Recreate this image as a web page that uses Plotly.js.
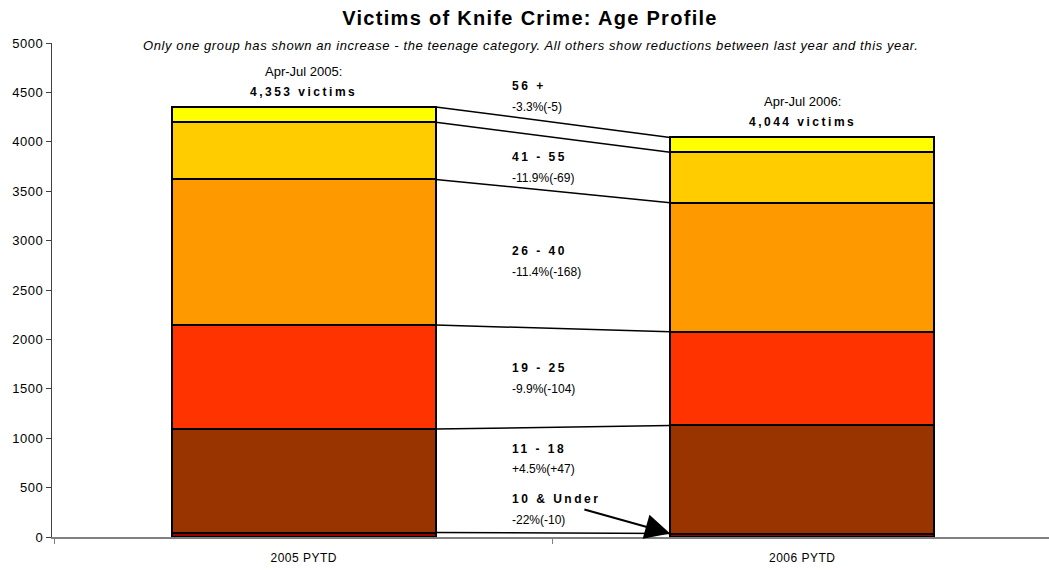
<!DOCTYPE html>
<html>
<head>
<meta charset="utf-8">
<script src="https://cdn.plot.ly/plotly-3.0.1.min.js"></script>
<style>
html,body{margin:0;padding:0;background:#fff;}
#chart{width:1049px;height:570px;}
.annotation-text tspan[style*="bold"]{letter-spacing:2.5px;}
.annotation-text tspan[style*="italic"]{letter-spacing:0.6px;}
.gtitle{letter-spacing:1.3px;}
.xtick text{letter-spacing:0.5px;}
.ytick text{letter-spacing:0.5px;}
</style>
</head>
<body>
<div id="chart"></div>
<script>
const categories = ['2005 PYTD', '2006 PYTD'];
const groups = ['10 & Under', '11 - 18', '19 - 25', '26 - 40', '41 - 55', '56 +'];
const values2005 = [45, 1047, 1053, 1474, 580, 154];
const values2006 = [35, 1094, 949, 1306, 511, 149];
const changeLabels = ['-22%(-10)', '+4.5%(+47)', '-9.9%(-104)', '-11.4%(-168)', '-11.9%(-69)', '-3.3%(-5)'];
const groupLabelY = [385, 891, 1711, 2895, 3846, 4565];
const changeLabelY = [172, 688, 1498, 2682, 3634, 4352];
const periodLabels = ['Apr-Jul 2005:', 'Apr-Jul 2006:'];
const colors = ['#990000', '#993300', '#FF3300', '#FF9900', '#FFCC00', '#FFFF00'];

const barWidth = 0.53;
const font = 'Liberation Sans, Arial, sans-serif';

const traces = groups.map((g, i) => ({
  type: 'bar',
  name: g,
  x: categories,
  y: [values2005[i], values2006[i]],
  marker: {color: colors[i], line: {color: '#000', width: 2}},
  width: barWidth,
  hoverinfo: 'skip'
}));

function cumul(arr) { let s = 0; return arr.map(v => (s += v)); }
const cum2005 = cumul(values2005);
const cum2006 = cumul(values2006);
const total2005 = cum2005[cum2005.length - 1];
const total2006 = cum2006[cum2006.length - 1];

const shapes = cum2005.map((v, i) => ({
  type: 'line', xref: 'x', yref: 'y',
  x0: barWidth / 2, y0: v, x1: 1 - barWidth / 2, y1: cum2006[i],
  line: {color: '#000', width: 1.5}
}));

const labelX = 0.414;
const annotations = [];
groups.forEach((g, i) => {
  annotations.push({x: labelX, y: groupLabelY[i], xref: 'x', yref: 'y', text: '<b>' + g + '</b>',
    showarrow: false, xanchor: 'left', yanchor: 'middle', font: {family: font, size: 12, color: '#000'}});
  annotations.push({x: labelX, y: changeLabelY[i], xref: 'x', yref: 'y', text: changeLabels[i],
    showarrow: false, xanchor: 'left', yanchor: 'middle', font: {family: font, size: 12, color: '#000'}});
});
// arrow from "10 & Under" label to 2006 bar bottom
annotations.push({x: 1 - barWidth / 2, y: values2006[0], xref: 'x', yref: 'y',
  ax: 0.56, ay: 283, axref: 'x', ayref: 'y', text: '', showarrow: true,
  arrowhead: 2, arrowsize: 2.5, arrowwidth: 2, arrowcolor: '#000', standoff: 0});
// totals
const totals = [total2005, total2006];
totals.forEach((t, i) => {
  annotations.push({x: categories[i], y: t, xref: 'x', yref: 'y', yshift: 6,
    text: '<b>' + t.toLocaleString('en-US') + ' victims</b>', showarrow: false, yanchor: 'bottom',
    font: {family: font, size: 12, color: '#000'}});
  annotations.push({x: categories[i], y: t, xref: 'x', yref: 'y', yshift: 26,
    text: periodLabels[i], showarrow: false, yanchor: 'bottom',
    font: {family: font, size: 13, color: '#000'}});
});
// subtitle
annotations.push({x: (530 - 52) / 997, xref: 'paper', y: 1, yref: 'paper',
  text: '<i>Only one group has shown an increase - the teenage category. All others show reductions between last year and this year.</i>',
  showarrow: false, xanchor: 'center', yanchor: 'middle', yshift: -2,
  font: {family: font, size: 13, color: '#000'}});

const layout = {
  width: 1049, height: 570,
  margin: {l: 52, r: 0, t: 43, b: 33},
  paper_bgcolor: '#fff', plot_bgcolor: '#fff',
  barmode: 'stack',
  showlegend: false,
  title: {text: 'Victims of Knife Crime: Age Profile', x: (530) / 1049, xanchor: 'center', y: 1 - 18 / 570, yanchor: 'middle',
    font: {family: font, size: 20, color: '#000', weight: 'bold'}},
  xaxis: {type: 'category', range: [-0.505, 1.495], showline: true, linecolor: '#808080', linewidth: 1.5,
    ticks: 'outside', tickson: 'boundaries', ticklen: 5, tickcolor: '#808080', showgrid: false, zeroline: false,
    ticklabelstandoff: 9,
    tickfont: {family: font, size: 12, color: '#000'}, fixedrange: true},
  yaxis: {range: [0, 5000], dtick: 500, showline: true, linecolor: '#404040', linewidth: 1.2,
    ticks: 'outside', ticklen: 5, tickcolor: '#404040', showgrid: false, zeroline: false,
    tickfont: {family: font, size: 13, color: '#000'}, fixedrange: true},
  shapes: shapes,
  annotations: annotations
};

Plotly.newPlot('chart', traces, layout, {displayModeBar: false, staticPlot: true});
</script>
</body>
</html>
